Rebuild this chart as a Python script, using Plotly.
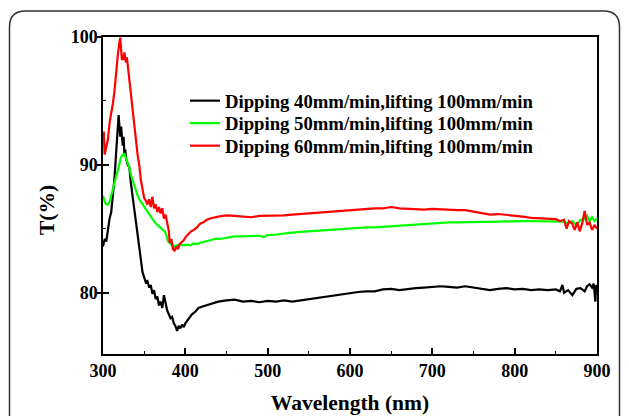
import plotly.graph_objects as go

# ---------------- data ----------------
black_x = [300,302,304,306,308,310,312,314,316,318,319,320,321,322,323,324,325,326,327,328,330,332,334,336,338,340,
           342,344,346,348,350,352,354,356,358,360,362,364,366,368,370,372,374,376,378,380,382,384,386,388,390,392,
           394,396,398,400,404,408,412,416,420,425,430,440,450,460,470,480,490,500,510,520,530,540,550,560,570,580,
           590,600,610,620,630,640,650,660,670,680,690,700,710,720,730,740,750,760,770,780,790,800,810,820,830,840,
           850,855,858,860,865,870,875,880,885,888,891,894,896,898,899,900]
black_y = [83.6,84.2,84.0,85.0,85.8,86.3,87.5,89.0,91.0,92.5,93.9,93.0,92.2,93.0,92.0,91.5,92.2,90.8,91.2,90.5,90.0,
           89.8,88.5,87.5,86.3,85.2,84.3,83.2,82.4,81.6,81.2,80.8,80.9,80.4,80.6,79.9,80.2,79.5,79.7,79.0,79.3,78.8,
           79.8,79.1,78.6,78.3,78.0,78.1,77.6,77.4,77.0,77.4,77.2,77.5,77.3,77.6,78.0,78.3,78.5,78.8,78.9,79.0,79.1,
           79.3,79.4,79.45,79.3,79.35,79.25,79.35,79.3,79.4,79.3,79.4,79.45,79.55,79.7,79.8,79.9,80.0,80.05,80.1,
           80.1,80.25,80.3,80.2,80.3,80.35,80.4,80.45,80.5,80.45,80.4,80.5,80.4,80.3,80.2,80.3,80.35,80.25,80.3,
           80.2,80.25,80.2,80.25,80.1,80.6,80.0,80.2,79.8,80.3,80.35,80.1,80.5,80.65,80.4,80.7,79.3,80.6,80.2]

green_x = [300,302,304,306,308,310,312,314,316,318,320,322,324,326,328,330,332,334,336,338,340,342,345,348,351,354,
           357,360,363,366,369,372,375,377,379,381,383,386,390,394,398,402,406,410,414,418,424,430,436,442,450,460,
           470,480,490,495,500,510,520,530,540,550,560,570,580,590,600,610,620,630,640,650,660,670,680,690,700,710,
           720,730,740,750,760,770,780,790,800,810,820,830,840,850,860,865,870,875,880,885,888,891,894,897,900]
green_y = [87.6,87.1,86.9,86.9,87.1,87.6,88.2,88.6,89.2,89.8,90.2,90.6,90.8,90.85,90.5,90.1,89.8,89.2,88.8,88.4,88.0,
           87.6,87.2,86.9,86.6,86.3,86.0,85.7,85.5,85.3,85.1,84.95,84.8,84.5,84.0,83.9,83.75,83.6,83.7,83.75,83.7,
           83.75,83.7,83.85,83.8,83.9,84.0,84.1,84.2,84.2,84.3,84.4,84.4,84.45,84.45,84.35,84.5,84.55,84.65,84.7,
           84.75,84.8,84.85,84.9,84.95,84.97,85.0,85.05,85.1,85.1,85.15,85.2,85.25,85.3,85.35,85.4,85.45,85.5,85.5,
           85.5,85.5,85.5,85.55,85.55,85.55,85.57,85.6,85.6,85.6,85.6,85.6,85.6,85.55,85.4,85.6,85.3,85.7,85.75,
           86.0,85.6,85.9,85.6,85.8]

red_x = [300,301,302,304,306,308,310,312,314,316,318,320,321,322,323,324,325,326,327,328,329,330,332,334,336,338,340,
         342,344,346,348,350,352,354,356,358,360,362,364,366,368,370,372,374,376,378,380,381,383,385,387,389,391,393,
         395,398,401,404,407,410,414,418,422,426,430,440,450,460,470,480,490,500,510,520,530,540,550,560,570,580,590,
         600,610,620,630,640,650,660,670,680,690,700,710,720,730,740,750,760,770,780,790,800,810,820,830,840,850,855,
         860,863,866,870,873,876,879,882,885,888,891,894,897,900]
red_y = [92.3,92.6,90.8,91.5,92.0,93.3,94.0,94.8,95.8,97.4,98.6,99.6,99.95,99.0,98.2,98.6,98.2,98.8,98.5,98.0,98.4,
         97.9,96.8,95.5,94.3,93.3,92.0,90.8,90.0,88.8,88.0,87.4,87.2,86.9,87.3,86.7,87.5,86.6,86.9,86.3,86.7,86.2,
         86.6,85.8,86.1,85.5,84.8,83.9,84.2,83.4,83.3,83.6,83.4,83.8,83.9,84.1,84.4,84.6,84.8,84.9,85.1,85.4,85.5,
         85.7,85.8,85.95,86.05,86.0,85.95,85.9,86.0,86.0,86.0,86.05,86.1,86.15,86.2,86.3,86.35,86.4,86.45,86.5,86.5,
         86.55,86.6,86.6,86.7,86.6,86.55,86.55,86.5,86.55,86.5,86.5,86.45,86.45,86.35,86.2,86.1,86.15,86.1,86.05,
         85.95,85.85,85.8,85.8,85.75,85.6,85.7,85.0,85.6,85.4,84.9,85.5,84.8,85.4,86.4,85.3,85.5,84.9,85.3,85.0]

series_names = ["Dipping 40mm/min,lifting 100mm/min",
                "Dipping 50mm/min,lifting 100mm/min",
                "Dipping 60mm/min,lifting 100mm/min"]
x_ticks = [300, 400, 500, 600, 700, 800, 900]
y_ticks = [80, 90, 100]
x_title = "Wavelength (nm)"
y_title = "T(%)"

# ---------------- figure ----------------
FONT = "Liberation Serif, Times New Roman, serif"
W, H = 629, 416
ML, MR, MT, MB = 103, 32, 37, 62
PW, PH = W - ML - MR, H - MT - MB

def px(xp):
    return (xp - ML) / PW

def py(yp):
    return (H - MB - yp) / PH

legend_ids = ["legend", "legend2", "legend3"]
legend_rows = [101, 123.5, 146]

fig = go.Figure()
for xs, ys, name, col, lg in [(black_x, black_y, series_names[0], "#000000", legend_ids[0]),
                              (green_x, green_y, series_names[1], "#00ff00", legend_ids[1]),
                              (red_x, red_y, series_names[2], "#ff0000", legend_ids[2])]:
    fig.add_trace(go.Scatter(x=xs, y=ys, mode="lines", name=name, legend=lg,
                             line=dict(color=col, width=2.2)))
# invisible trace to anchor the outside tick axis
fig.add_trace(go.Scatter(x=[300], y=[80], yaxis="y2", mode="markers",
                         marker=dict(opacity=0), showlegend=False, hoverinfo="skip"))

axis_common = dict(showgrid=False, zeroline=False, showline=True, linecolor="black",
                   linewidth=1.5, mirror=True, ticks="inside", ticklen=6, tickwidth=1.5,
                   tickcolor="black", automargin=False,
                   tickfont=dict(family=FONT, size=18, color="black", weight="bold"))

legend_font = dict(family=FONT, size=18.7, color="black", weight="bold")
legends = {}
for lg, row in zip(legend_ids, legend_rows):
    legends[lg] = dict(x=px(185), y=py(row), xanchor="left", yanchor="middle",
                       bgcolor="rgba(0,0,0,0)", font=legend_font)

fig.update_layout(
    width=W, height=H,
    margin=dict(l=ML, r=MR, t=MT, b=MB, autoexpand=False),
    paper_bgcolor="white", plot_bgcolor="white",
    xaxis=dict(range=[300, 900], tickvals=x_ticks, **axis_common,
               minor=dict(dtick=50, ticks="inside", ticklen=3, tickwidth=1.2, tickcolor="black"),
               title=dict(text=x_title, font=dict(family=FONT, size=21.5, color="black", weight="bold"),
                          standoff=15)),
    yaxis=dict(range=[75.2, 100], tickvals=y_ticks, **axis_common,
               ticklabelstandoff=0,
               minor=dict(dtick=5, tick0=75, ticks="inside", ticklen=3, tickwidth=1.2, tickcolor="black")),
    yaxis2=dict(range=[75.2, 100], tickvals=y_ticks, overlaying="y", side="left", automargin=False,
                showgrid=False, zeroline=False, showline=False, ticks="outside", ticklen=5,
                tickwidth=1.5, tickcolor="black", showticklabels=False),
    showlegend=True,
    **legends,
)

# y axis title placed as annotation
fig.add_annotation(text=y_title, xref="paper", yref="paper", x=px(47), y=py(210),
                   showarrow=False, textangle=-90, xanchor="center", yanchor="middle",
                   font=dict(family=FONT, size=21.5, color="black", weight="bold"))

# rounded frame around the figure
L, R, T, B, r = 9.5, 619.5, 11, 440, 16
path = (f"M {px(L)},{py(T + r)} Q {px(L)},{py(T)} {px(L + r)},{py(T)} "
        f"L {px(R - r)},{py(T)} Q {px(R)},{py(T)} {px(R)},{py(T + r)} "
        f"L {px(R)},{py(B)} L {px(L)},{py(B)} Z")
fig.add_shape(type="path", path=path, xref="paper", yref="paper",
              line=dict(color="#333333", width=1.5), fillcolor="rgba(0,0,0,0)", layer="below")

fig.write_html("out.html")
